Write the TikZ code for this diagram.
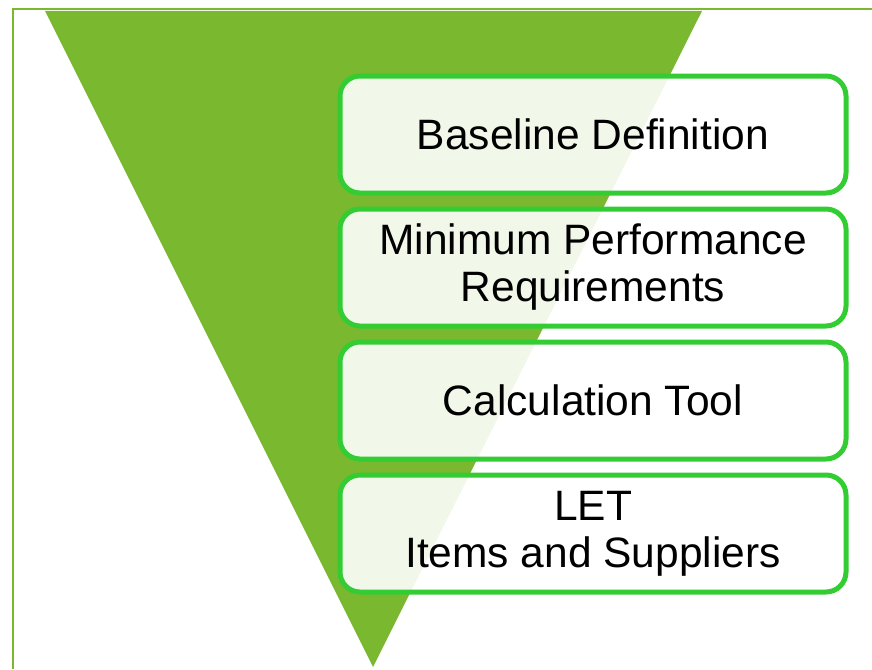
\documentclass[tikz,border=0pt]{standalone}
\usepackage{fontspec}
\setmainfont{Liberation Sans}
\definecolor{trigreen}{RGB}{122,185,47}
\definecolor{boxgreen}{RGB}{51,204,51}
\tikzset{
  stagebox/.style={draw=boxgreen, line width=5pt, rounded corners=20pt,
    fill=white, fill opacity=0.9, text opacity=1,
    minimum width=506pt, minimum height=117pt, align=center,
    font=\fontsize{42.5}{47}\selectfont, inner sep=0pt},
  frameline/.style={draw=trigreen, line width=2.5pt}
}
\begin{document}
\begin{tikzpicture}[x=1pt,y=-1pt]
\useasboundingbox (0,0) rectangle (872,669);
\coordinate (fl) at (13,669);
\coordinate (fc) at (13,9);
\coordinate (fr) at (872,9);
\draw[frameline] (fl) -- (fc) -- (fr);
\coordinate (ta) at (45,11);
\coordinate (tb) at (702,11);
\coordinate (tc) at (373,667);
\fill[trigreen] (ta) -- (tb) -- (tc) -- cycle;
\node[stagebox] (b1) at (593,134.5) {Baseline Definition};
\node[stagebox] (b2) at (593,267.5) {Minimum Performance\\Requirements};
\node[stagebox] (b3) at (593,400.5) {Calculation Tool};
\node[stagebox] (b4) at (593,533.5) {LET\\Items and Suppliers};
\end{tikzpicture}
\end{document}
